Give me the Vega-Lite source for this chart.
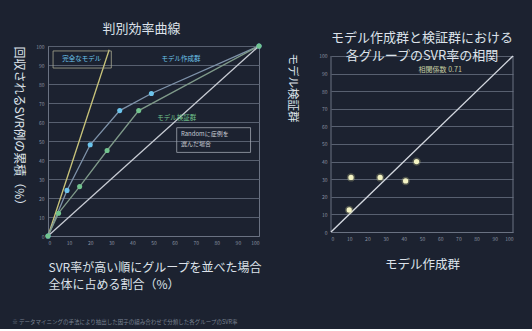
{
  "$schema": "https://vega.github.io/schema/vega-lite/v6.json",
  "background": "#1c2230",
  "padding": {"left": 12, "top": 22, "right": 20, "bottom": 4},
  "bounds": "full",
  "spacing": 23,
  "config": {
    "font": "Noto Sans CJK JP",
    "view": {"stroke": "#6a7282", "strokeWidth": 1},
    "axis": {"gridColor": "#586070", "gridWidth": 1, "domainColor": "#6a7282", "tickSize": 0, "labelColor": "#8a92a2", "labelFontSize": 5, "titleColor": "#dde2ea", "labelPadding": 4, "titleFontWeight": "normal", "labelOverlap": false},
    "title": {"color": "#dde2ea", "fontSize": 13, "fontWeight": "normal", "subtitleColor": "#dde2ea", "subtitleFontSize": 13, "subtitleFont": "Noto Sans CJK JP"}
  },
  "title": {"text": "※ データマイニングの手法により抽出した因子の組み合わせで分類した各グループのSVR率", "orient": "bottom", "anchor": "start", "fontSize": 5.5, "color": "#7a8292", "offset": 29, "fontWeight": "normal"},
  "datasets": {
    "gain": [
      {"series": "perfect", "x": 0, "y": 0},
      {"series": "perfect", "x": 29, "y": 98},
      {"series": "model", "x": 0, "y": 0},
      {"series": "model", "x": 9, "y": 24},
      {"series": "model", "x": 20, "y": 48},
      {"series": "model", "x": 34, "y": 66},
      {"series": "model", "x": 49, "y": 75},
      {"series": "model", "x": 100, "y": 100},
      {"series": "valid", "x": 0, "y": 0},
      {"series": "valid", "x": 5, "y": 12},
      {"series": "valid", "x": 15, "y": 26},
      {"series": "valid", "x": 28, "y": 45},
      {"series": "valid", "x": 43, "y": 66},
      {"series": "valid", "x": 100, "y": 100},
      {"series": "random", "x": 0, "y": 0},
      {"series": "random", "x": 100, "y": 100}
    ],
    "boxes": [
      {"x": 2.4, "x2": 30, "y": 97.4, "y2": 88.4, "kind": "perfect"},
      {"x": 61, "x2": 96, "y": 57, "y2": 44, "kind": "random"}
    ],
    "notes": [
      {"label": "完全なモデル", "x": 16, "y": 93, "kind": "perfect"},
      {"label": "モデル作成群", "x": 63, "y": 93, "kind": "model"},
      {"label": "モデル検証群", "x": 61, "y": 62, "kind": "valid"}
    ],
    "randomNote": [
      {"label": "Randomに症例を\n選んだ場合", "x": 63, "y": 53.5}
    ],
    "corr": [
      {"x": 10, "y": 12.5},
      {"x": 11, "y": 31},
      {"x": 27, "y": 31},
      {"x": 41, "y": 29},
      {"x": 47, "y": 40}
    ],
    "diag": [
      {"x": 0, "y": 0},
      {"x": 100, "y": 100}
    ],
    "edges": [
      {"x": 0, "y": 0, "y2": 100},
      {"x": 100, "y": 0, "y2": 100}
    ],
    "corrNote": [
      {"label": "相関係数 0.71", "x": 60, "y": 92}
    ]
  },
  "hconcat": [
    {
      "width": 211,
      "height": 190,
      "title": {"text": "判別効率曲線", "offset": 7, "dx": -12},
      "encoding": {
        "x": {"field": "x", "type": "quantitative", "scale": {"domain": [0, 100], "nice": false},
              "axis": {"values": [0,10,20,30,40,50,60,70,80,90,100], "grid": false,
                       "title": ["SVR率が高い順にグループを並べた場合", "全体に占める割合（%）"],
                       "titleFontSize": 12, "titleAnchor": "start", "titleAlign": "left", "titleLineHeight": 17, "titlePadding": 17}},
        "y": {"field": "y", "type": "quantitative", "scale": {"domain": [0, 100], "nice": false},
              "axis": {"values": [0,10,20,30,40,50,60,70,80,90,100], "grid": true,
                       "title": "回収されるSVR例の累積（%）", "titleFontSize": 12, "titleAngle": 90, "titleAnchor": "end", "titleAlign": "left", "titlePadding": 24}}
      },
      "layer": [
        {
          "data": {"name": "gain"},
          "mark": {"type": "line", "strokeWidth": 1.3},
          "encoding": {
            "detail": {"field": "series"},
            "color": {"field": "series", "type": "nominal", "legend": null,
                      "scale": {"domain": ["perfect", "model", "valid", "random"], "range": ["#c9c47a", "#7f93aa", "#7f9a8a", "#c8ccd4"]}}
          }
        },
        {
          "data": {"name": "gain"},
          "transform": [{"filter": "datum.series === 'model' || datum.series === 'valid'"}],
          "mark": {"type": "circle", "size": 26, "opacity": 1},
          "encoding": {
            "fill": {"field": "series", "type": "nominal", "legend": null,
                     "scale": {"domain": ["model", "valid"], "range": ["#6cc4ec", "#72c48e"]}}
          }
        },
        {
          "data": {"name": "boxes"},
          "mark": {"type": "rect", "fillOpacity": 0, "strokeWidth": 0.8},
          "encoding": {
            "x2": {"field": "x2"},
            "y2": {"field": "y2"},
            "stroke": {"field": "kind", "type": "nominal", "legend": null,
                       "scale": {"domain": ["perfect", "random"], "range": ["#a8a890", "#a0a6b0"]}}
          }
        },
        {
          "data": {"name": "notes"},
          "mark": {"type": "text", "fontSize": 6.5},
          "encoding": {
            "text": {"field": "label"},
            "fill": {"field": "kind", "type": "nominal", "legend": null,
                     "scale": {"domain": ["perfect", "model", "valid"], "range": ["#c8c8a8", "#3f9fd6", "#4b9a7c"]}}
          }
        },
        {
          "data": {"name": "randomNote"},
          "mark": {"type": "text", "fontSize": 6, "color": "#c8ccd4", "align": "left", "lineHeight": 10, "lineBreak": "\n"},
          "encoding": {
            "text": {"field": "label"}
          }
        }
      ]
    },
    {
      "width": 182,
      "height": 186,
      "view": {"stroke": null},
      "title": {"text": "モデル作成群と検証群における", "subtitle": "各グループのSVR率の相関", "subtitlePadding": 5, "offset": 2, "dy": 19},
      "encoding": {
        "x": {"field": "x", "type": "quantitative", "scale": {"domain": [0, 100], "nice": false},
              "axis": {"values": [0,10,20,30,40,50,60,70,80,90,100], "grid": false,
                       "title": "モデル作成群", "titleFontSize": 12.5, "titlePadding": 17}},
        "y": {"field": "y", "type": "quantitative", "scale": {"domain": [0, 105.68], "nice": false},
              "axis": {"values": [0,10,20,30,40,50,60,70,80,90,100], "grid": true, "domain": false,
                       "title": "モデル検証群", "titleFontSize": 11.5, "titleAngle": 90, "titleAnchor": "end", "titleAlign": "left", "titleY": 7, "titlePadding": 32}}
      },
      "layer": [
        {
          "data": {"name": "edges"},
          "mark": {"type": "rule", "color": "#6a7282", "strokeWidth": 1},
          "encoding": {"y2": {"field": "y2"}}
        },
        {
          "data": {"name": "diag"},
          "mark": {"type": "line", "strokeWidth": 1.4, "color": "#d4d8e0"},
          "encoding": {}
        },
        {
          "data": {"name": "corr"},
          "mark": {"type": "circle", "size": 70, "color": "#e8e8a0", "opacity": 0.25},
          "encoding": {}
        },
        {
          "data": {"name": "corr"},
          "mark": {"type": "circle", "size": 28, "color": "#f4f4c4", "opacity": 1},
          "encoding": {}
        },
        {
          "data": {"name": "corrNote"},
          "mark": {"type": "text", "fontSize": 7, "color": "#c4cca0"},
          "encoding": {"text": {"field": "label"}}
        }
      ]
    }
  ]
}
